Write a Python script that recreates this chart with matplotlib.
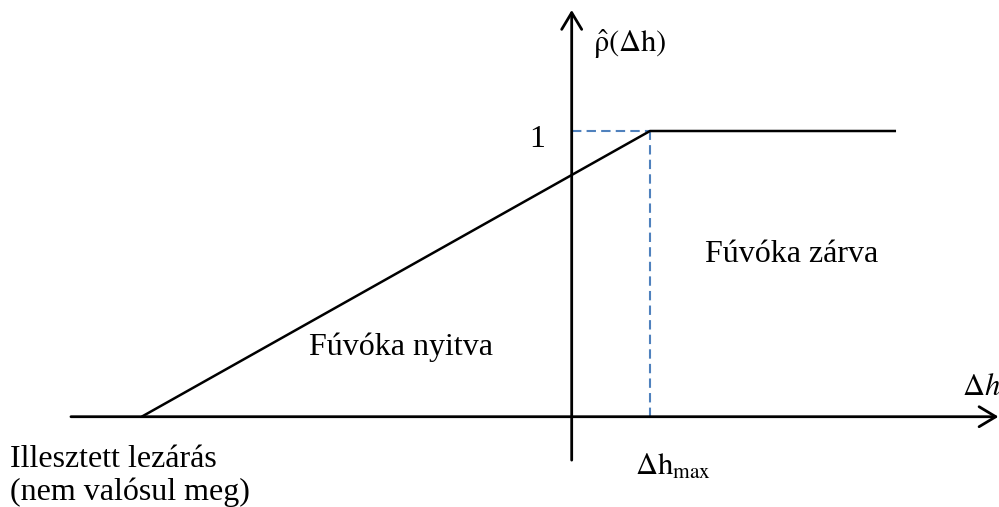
import matplotlib
matplotlib.use("Agg")
import matplotlib.pyplot as plt

plt.rcParams['mathtext.fontset'] = 'stix'

# Data (x in units of Δh_max, y in units of ρ̂)
curve_x = [-5.492, 1.0, 4.142]
curve_y = [0.0, 1.0, 1.0]
dh_max = 1.0
rho_level = 1.0

x_axis_range = [-6.395, 5.45]
y_axis_range = [-0.152, 1.4235]

fig = plt.figure(figsize=(9.99, 5.07), dpi=100)
ax = fig.add_axes([0, 0, 1, 1])
ax.set_xlim(-7.301, 5.457)
ax.set_ylim(-0.316, 1.4585)
ax.axis('off')

black = 'black'
blue = '#4f81bd'

arrow = dict(arrowstyle='->,head_length=0.6,head_width=0.36',
             mutation_scale=20, lw=2.0, color=black, shrinkA=0, shrinkB=0)
ax.annotate('', xy=(x_axis_range[1], 0), xytext=(x_axis_range[0], 0), arrowprops=arrow)
ax.annotate('', xy=(0, y_axis_range[1]), xytext=(0, y_axis_range[0]), arrowprops=arrow)

# dashed guides
ax.plot([0, dh_max], [rho_level, rho_level], ls=(0, (4.5, 2.5)), color=blue, lw=1.5)
ax.plot([dh_max, dh_max], [0, rho_level], ls=(0, (4.5, 2.5)), color=blue, lw=1.5)

# characteristic
ax.plot(curve_x, curve_y, color=black, lw=1.8, solid_capstyle='butt')

serif = ['Liberation Serif', 'DejaVu Serif']
fs = 23
mfs = 22

ax.text(-0.341, 0.944, '1', ha='right', va='baseline', fontsize=fs, family=serif)
ax.text(0.272, 1.2766, r'$\hat{\mathrm{\rho}}(\Delta \mathrm{h})$', ha='left', va='baseline', fontsize=mfs)
ax.text(-3.354, 0.216, 'Fúvóka nyitva', ha='left', va='baseline', fontsize=fs, family=serif)
ax.text(1.702, 0.5415, 'Fúvóka zárva', ha='left', va='baseline', fontsize=fs, family=serif)
ax.text(4.985, 0.076, r'$\Delta h$', ha='left', va='baseline', fontsize=mfs)
ax.text(0.808, -0.204, r'$\Delta \mathrm{h}_{\mathrm{max}}$', ha='left', va='baseline', fontsize=mfs)
ax.text(-7.173, -0.176, 'Illesztett lezárás', ha='left', va='baseline', fontsize=fs, family=serif)
ax.text(-7.173, -0.292, '(nem valósul meg)', ha='left', va='baseline', fontsize=fs, family=serif)

fig.savefig('out.png', dpi=100)
